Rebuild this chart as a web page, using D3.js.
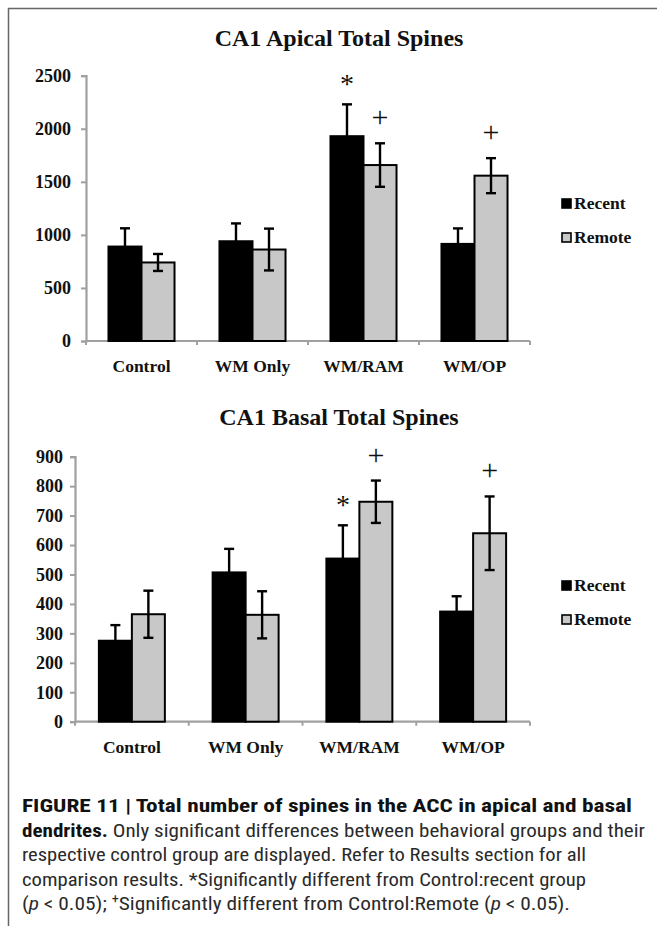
<!DOCTYPE html>
<html>
<head>
<meta charset="utf-8">
<script src="https://cdn.jsdelivr.net/npm/d3@7"></script>
<style>
  html, body { margin: 0; padding: 0; background: #fff; }
  svg { display: block; }
</style>
</head>
<body>
<script>
// ---------------- DATA ----------------
const categories = ["Control", "WM Only", "WM/RAM", "WM/OP"];
const seriesNames = ["Recent", "Remote"];

const apicalRecent    = [890, 940, 1930, 915];
const apicalRecentErr = [172, 168, 300, 146];
const apicalRemote    = [740, 862, 1658, 1558];
const apicalRemoteErr = [80, 197, 205, 165];
const apicalTicks     = [0, 500, 1000, 1500, 2000, 2500];
const apicalMarks     = [["WM/RAM", "Recent", "*"], ["WM/RAM", "Remote", "+"], ["WM/OP", "Remote", "+"]];

const basalRecent    = [275, 507, 554, 374];
const basalRecentErr = [53, 80, 113, 52];
const basalRemote    = [365, 363, 747, 640];
const basalRemoteErr = [80, 80, 72, 125];
const basalTicks     = [0, 100, 200, 300, 400, 500, 600, 700, 800, 900];
const basalMarks     = [["WM/RAM", "Recent", "*"], ["WM/RAM", "Remote", "+"], ["WM/OP", "Remote", "+"]];

// ---------------- DRAW ----------------
const W = 657, H = 926;
const svg = d3.select("body").append("svg").attr("width", W).attr("height", H);
svg.append("rect").attr("width", W).attr("height", H).attr("fill", "#fff");

// frame (top + left)
svg.append("path").attr("d", `M${W},8.5 H8.5 V${H}`).attr("fill", "none")
  .attr("stroke", "#666").attr("stroke-width", 1.5);

const serif = "'Liberation Serif','Times New Roman',Times,serif";
const fills = { Recent: "#000", Remote: "#c8c8c8" };

function chart(opt) {
  const g = svg.append("g");
  const y = d3.scaleLinear().domain([0, opt.max]).range([opt.y0, opt.y1]);
  const x0 = d3.scaleBand().domain(categories).range([opt.xL, opt.xR])
    .paddingInner(opt.padIn).paddingOuter(opt.padIn / 2);
  const x1 = d3.scaleBand().domain(seriesNames).range([0, x0.bandwidth()]);

  // title
  g.append("text").attr("x", opt.titleX).attr("y", opt.titleY)
    .attr("text-anchor", "middle").attr("font-family", serif)
    .attr("font-weight", "bold").attr("font-size", 24).attr("fill", "#111")
    .text(opt.title);

  // y axis
  const ya = g.append("g").attr("transform", `translate(${opt.xL},0)`)
    .call(d3.axisLeft(y).tickValues(opt.ticks).tickSize(5).tickPadding(opt.tickPad).tickFormat(d3.format("d")));
  ya.select(".domain").attr("stroke", "#a0a0a0").attr("stroke-width", 2.2);
  ya.selectAll(".tick line").attr("stroke", "#a0a0a0").attr("stroke-width", 2);
  ya.selectAll(".tick text").attr("font-family", serif).attr("font-weight", "bold")
    .attr("font-size", 18).attr("fill", "#111");

  // x axis
  const xa = g.append("g").attr("transform", `translate(0,${opt.y0})`)
    .call(d3.axisBottom(x0).tickSize(0).tickPadding(opt.catPad));
  xa.select(".domain").attr("stroke", "#a0a0a0").attr("stroke-width", 2.2)
    .attr("d", `M${opt.xL},0H${opt.xR}`);
  xa.selectAll(".tick text").attr("font-family", serif).attr("font-weight", "bold")
    .attr("font-size", 17.5).attr("fill", "#111");
  // category boundary ticks
  const step = x0.step();
  const bounds = d3.range(categories.length + 1).map(i => opt.xL + i * step);
  g.selectAll(".btick").data(bounds).join("line")
    .attr("x1", d => d).attr("x2", d => d).attr("y1", opt.y0).attr("y2", opt.y0 + 4)
    .attr("stroke", "#a0a0a0").attr("stroke-width", 2);

  // bars
  const rows = [];
  categories.forEach((c, i) => {
    rows.push({ c, s: "Recent", v: opt.recent[i], e: opt.recentErr[i] });
    rows.push({ c, s: "Remote", v: opt.remote[i], e: opt.remoteErr[i] });
  });
  g.selectAll(".bar").data(rows).join("rect")
    .attr("x", d => x0(d.c) + x1(d.s))
    .attr("y", d => y(d.v))
    .attr("width", x1.bandwidth())
    .attr("height", d => opt.y0 - y(d.v))
    .attr("fill", d => fills[d.s]).attr("stroke", "#000").attr("stroke-width", 2);

  // error bars
  const cx = d => x0(d.c) + x1(d.s) + x1.bandwidth() / 2;
  const eg = g.selectAll(".err").data(rows).join("g");
  eg.append("line").attr("x1", cx).attr("x2", cx)
    .attr("y1", d => y(d.v + d.e)).attr("y2", d => y(d.v - d.e))
    .attr("stroke", "#000").attr("stroke-width", 2.4);
  eg.append("line").attr("x1", d => cx(d) - 5).attr("x2", d => cx(d) + 5)
    .attr("y1", d => y(d.v + d.e)).attr("y2", d => y(d.v + d.e))
    .attr("stroke", "#000").attr("stroke-width", 2.4);
  eg.append("line").attr("x1", d => cx(d) - 5).attr("x2", d => cx(d) + 5)
    .attr("y1", d => y(d.v - d.e)).attr("y2", d => y(d.v - d.e))
    .attr("stroke", "#000").attr("stroke-width", 2.4);

  // significance marks
  opt.marks.forEach(([c, s, sym]) => {
    const r = rows.find(d => d.c === c && d.s === s);
    const top = y(r.v + r.e);
    const isStar = sym === "*";
    g.append("text").attr("x", cx(r)).attr("y", isStar ? top - 24 + 13 : top - 24 + 8)
      .attr("text-anchor", "middle").attr("font-family", serif)
      .attr("font-size", isStar ? 28 : 30).attr("fill", "#111").text(sym);
  });

  // legend
  seriesNames.forEach((s, i) => {
    const ly = opt.legY + i * opt.legGap;
    g.append("rect").attr("x", 562).attr("y", ly - 10).attr("width", 9).attr("height", 9)
      .attr("fill", fills[s]).attr("stroke", "#000").attr("stroke-width", 1.6);
    g.append("text").attr("x", 574).attr("y", ly).attr("font-family", serif)
      .attr("font-weight", "bold").attr("font-size", 17.5).attr("fill", "#111").text(s);
  });
}

chart({
  title: "CA1 Apical Total Spines", titleX: 339, titleY: 46,
  max: 2500, y0: 341, y1: 75.7, xL: 86, xR: 530, padIn: 0.405,
  ticks: apicalTicks, tickPad: 10, catPad: 19,
  recent: apicalRecent, recentErr: apicalRecentErr,
  remote: apicalRemote, remoteErr: apicalRemoteErr,
  marks: apicalMarks, legY: 209, legGap: 34
});

chart({
  title: "CA1 Basal Total Spines", titleX: 339, titleY: 425,
  max: 900, y0: 721.7, y1: 456.7, xL: 75, xR: 530, padIn: 0.42,
  ticks: basalTicks, tickPad: 7, catPad: 19,
  recent: basalRecent, recentErr: basalRecentErr,
  remote: basalRemote, remoteErr: basalRemoteErr,
  marks: basalMarks, legY: 591, legGap: 34
});

// ---------------- CAPTION ----------------
const sans = "'Liberation Sans Narrow','Roboto Condensed','Liberation Sans',Arial,sans-serif";
const cap = svg.append("g").attr("font-family", sans).attr("font-size", 18).attr("fill", "#2a2a2a");
const capLines = [
  { y: 812, len: 610, parts: [["FIGURE 11 | Total number of spines in the ACC in apical and basal", "bold"]] },
  { y: 836.5, len: 623, parts: [["dendrites.", "bold"], [" Only significant differences between behavioral groups and their", "normal"]] },
  { y: 861, len: 564, parts: [["respective control group are displayed. Refer to Results section for all", "normal"]] },
  { y: 885.5, len: 564, parts: [["comparison results. *Significantly different from Control:recent group", "normal"]] },
  { y: 910, len: 548, parts: [["(", "normal"], ["p", "italic"], [" < 0.05); ", "normal"], ["+", "sup"], ["Significantly different from Control:Remote (", "normal"], ["p", "italic"], [" < 0.05).", "normal"]] }
];
capLines.forEach(L => {
  const t = cap.append("text").attr("x", 22).attr("y", L.y)
    .attr("textLength", L.len).attr("lengthAdjust", "spacingAndGlyphs");
  L.parts.forEach(([s, st]) => {
    const ts = t.append("tspan").text(s);
    if (st === "bold") ts.attr("font-weight", "bold").attr("fill", "#111");
    if (st === "italic") ts.attr("font-style", "italic");
    if (st === "sup") ts.attr("font-size", 12).attr("baseline-shift", "super");
  });
});
</script>
</body>
</html>
